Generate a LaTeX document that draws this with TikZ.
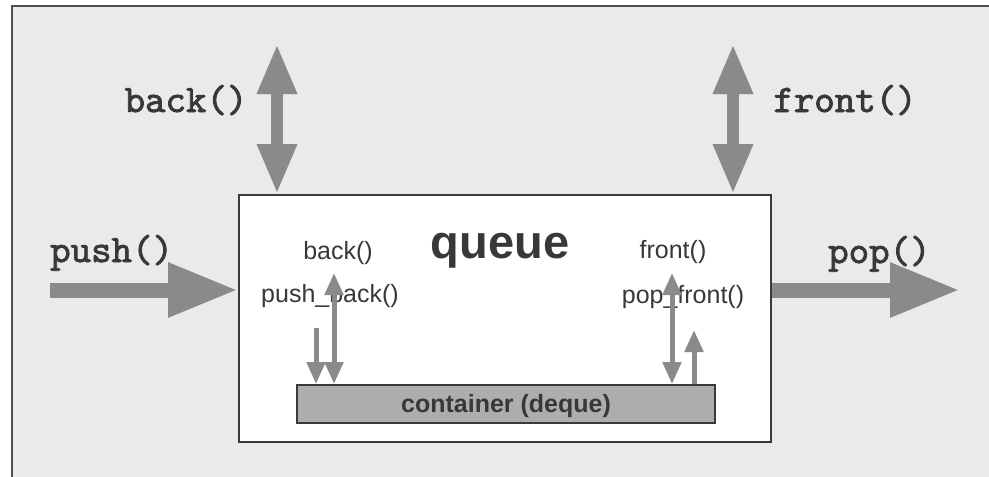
\documentclass[tikz,border=0pt]{standalone}
\usepackage{fontspec}
\setmainfont{Liberation Sans}
\newfontfamily\codefont{lmmono10-regular.otf}[FakeBold=2]
\usetikzlibrary{arrows.meta}
\definecolor{bgc}{HTML}{EAEAEA}
\definecolor{arrowc}{HTML}{8A8A8A}
\definecolor{framec}{HTML}{505050}
\definecolor{boxc}{HTML}{3A3A3A}
\definecolor{contc}{HTML}{ADADAD}
\definecolor{textc}{HTML}{383838}
\tikzset{
  codelabel/.style={text=textc, font=\codefont\fontsize{39}{42}\selectfont, inner sep=0pt, anchor=base},
  smalllabel/.style={text=textc, font=\fontsize{25}{30}\selectfont, inner sep=0pt, anchor=base},
  bigarrow/.style={draw=arrowc, line width=15pt, -{Triangle[width=51pt,length=70pt]}, color=arrowc},
  vertarrow/.style={draw=arrowc, line width=12pt, {Triangle[width=37pt,length=50pt]}-{Triangle[width=37pt,length=50pt]}, color=arrowc},
  smallarrow/.style={draw=arrowc, line width=5pt, -{Triangle[width=18pt,length=22pt]}, color=arrowc},
  smalldouble/.style={draw=arrowc, line width=5pt, {Triangle[width=18pt,length=22pt]}-{Triangle[width=18pt,length=22pt]}, color=arrowc}
}
\begin{document}
\begin{tikzpicture}[x=1pt,y=-1pt]
\useasboundingbox (0,0) rectangle (989,477);
\fill[white] (0,0) rectangle (989,477);
\fill[bgc] (12,6) rectangle (989,477);
\draw[framec, line width=2.5pt] (12,477) -- (12,6) -- (989,6);

% main boxes
\node[draw=boxc, fill=white, line width=2pt, minimum width=532pt, minimum height=247pt, inner sep=0pt] (qbox) at (505,318.5) {};
\node[draw=boxc, fill=contc, line width=2pt, minimum width=418pt, minimum height=38pt, inner sep=0pt] (cont) at (506,404) {};
\node[text=textc, font=\bfseries\fontsize{25}{30}\selectfont, inner sep=0pt, anchor=base] (contlbl) at (506,412) {container (deque)};

% title
\node[text=textc, font=\bfseries\fontsize{47}{50}\selectfont, inner sep=0pt, anchor=base] (qtitle) at (500,258) {queue};

% outer labels
\node[codelabel, anchor=base west] (pushlbl) at (50,262) {push()};
\node[codelabel, anchor=base west] (poplbl) at (828,263) {pop()};
\node[codelabel] (backlbl) at (186,112) {back()};
\node[codelabel] (frontlbl) at (845,112) {front()};

% inner labels
\node[smalllabel] (ibk) at (338,259) {back()};
\node[smalllabel] (ipb) at (330,302) {push\_back()};
\node[smalllabel] (ifr) at (673,258) {front()};
\node[smalllabel] (ipf) at (683,303) {pop\_front()};

% coordinates for free ends
\coordinate (pushS) at (50,290);
\coordinate (popE) at (960,290);
\coordinate (backT) at (277,44);
\coordinate (frontT) at (733,44);
\coordinate (pbS) at (316,328);
\coordinate (bkT) at (334,273);
\coordinate (frT) at (672,273);
\coordinate (pfT) at (694,330);

% big arrows
\draw[bigarrow] (pushS) -- (qbox.west |- pushS);
\draw[bigarrow] (qbox.east |- popE) -- (popE);
\draw[vertarrow] (backT) -- (qbox.north -| backT);
\draw[vertarrow] (frontT) -- (qbox.north -| frontT);

% small arrows
\draw[smallarrow] (pbS) -- (cont.north -| pbS);
\draw[smalldouble] (bkT) -- (cont.north -| bkT);
\draw[smalldouble] (frT) -- (cont.north -| frT);
\draw[smallarrow] (cont.north -| pfT) -- (pfT);
\end{tikzpicture}
\end{document}
